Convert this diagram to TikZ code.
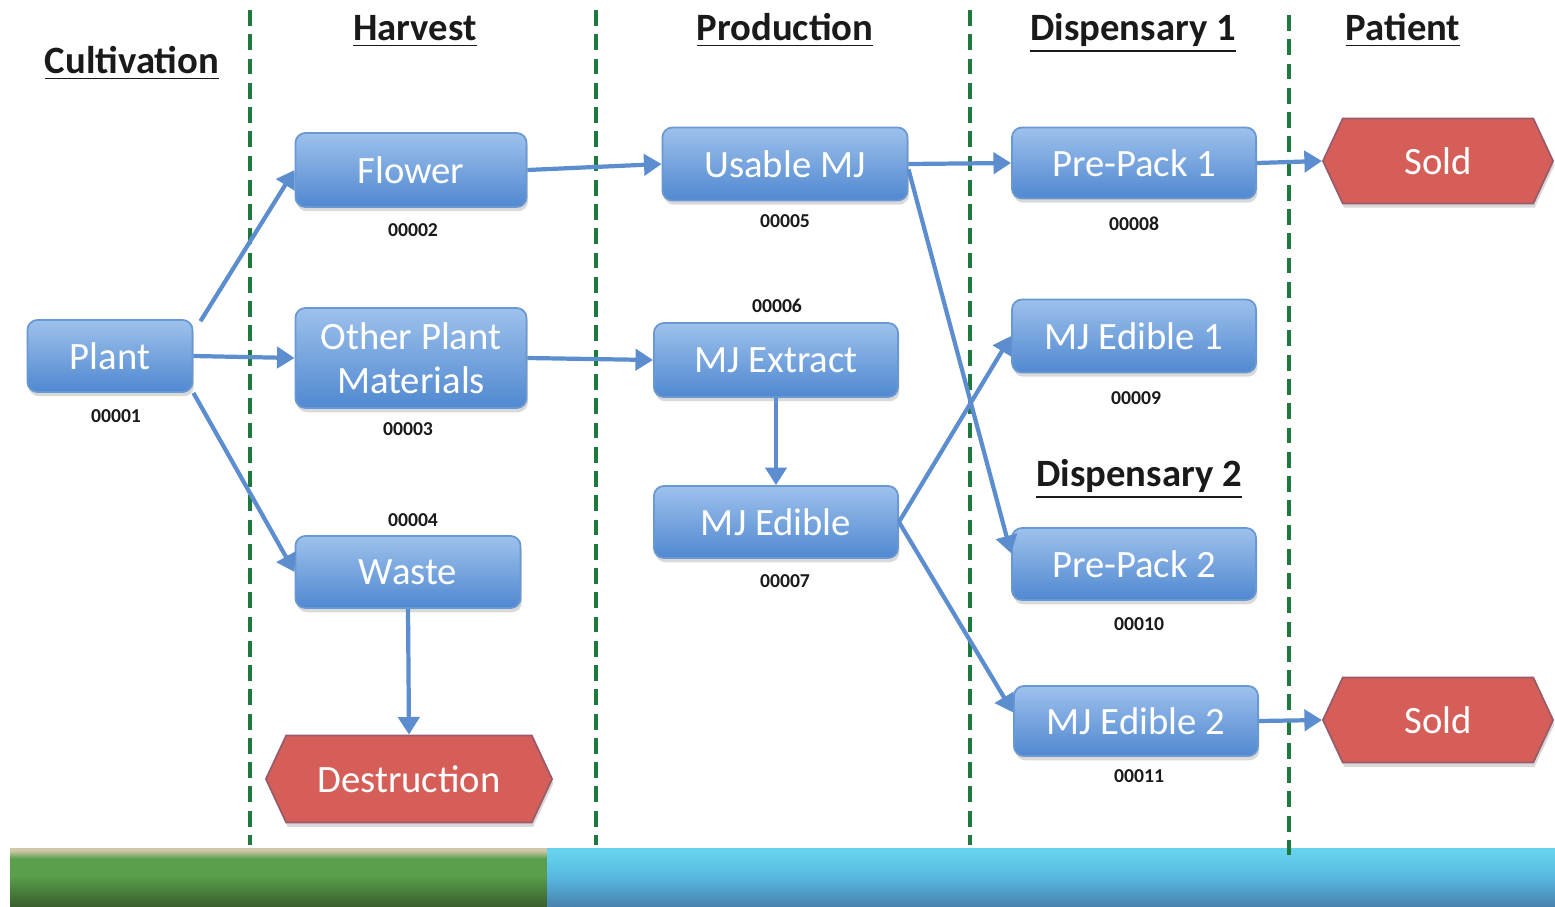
\documentclass[tikz,border=0pt]{standalone}
\usepackage{fontspec}
\setmainfont{Carlito}
\usetikzlibrary{arrows.meta,shapes.symbols,shadows}
\definecolor{boxtop}{HTML}{9DC1EC}
\definecolor{boxbot}{HTML}{5088D0}
\definecolor{boxline}{HTML}{6A98D2}
\definecolor{arrblue}{HTML}{5B8DCF}
\definecolor{lanegreen}{HTML}{1E7A3C}
\definecolor{hexfill}{HTML}{D55F58}
\definecolor{hexline}{HTML}{9A5A6A}
\definecolor{headtext}{HTML}{1A1A1A}
\definecolor{grtop}{HTML}{D0C8A8}
\definecolor{grmid}{HTML}{5AA04C}
\definecolor{grbot}{HTML}{3A602E}
\definecolor{bltop}{HTML}{66D2EC}
\definecolor{blmid}{HTML}{58B8E0}
\definecolor{blbot}{HTML}{4883B0}
\pgfdeclareverticalshading{greenbar}{100bp}{color(0bp)=(grbot); color(25bp)=(grbot); color(52bp)=(grmid); color(66bp)=(grmid); color(73bp)=(grtop); color(100bp)=(grtop)}
\pgfdeclareverticalshading{bluebar}{100bp}{color(0bp)=(blbot); color(25bp)=(blbot); color(50bp)=(blmid); color(71bp)=(bltop); color(100bp)=(bltop)}
\tikzset{
  box/.style={rounded corners=0.1cm, draw=boxline, line width=0.5pt,
    top color=boxtop, bottom color=boxbot, text=white,
    font=\fontsize{11}{12.5}\selectfont, align=center, inner sep=0pt,
    drop shadow={shadow xshift=0.4pt, shadow yshift=-1.2pt, opacity=0.3}},
  hexbox/.style={shape=signal, signal to=east and west, signal pointer angle=130,
    fill=hexfill, draw=hexline, line width=0.5pt, text=white,
    font=\fontsize{11}{12.5}\selectfont, inner sep=0pt,
    drop shadow={shadow xshift=0.4pt, shadow yshift=-1.2pt, opacity=0.3}},
  heading/.style={font=\bfseries\fontsize{11}{13}\selectfont, text=headtext, anchor=base, inner sep=0pt},
  idlabel/.style={font=\bfseries\fontsize{5.6}{6.5}\selectfont, text=headtext, inner sep=0pt},
  lane/.style={draw=lanegreen, line width=1.35pt, dash pattern=on 4.5pt off 2.4pt},
  arr/.style={draw=arrblue, line width=1.2pt, -{Triangle[length=5pt,width=6pt]}}
}
\begin{document}
\begin{tikzpicture}[x=0.01cm,y=-0.01cm]
\useasboundingbox (0,0) rectangle (1555,906);
% bottom bars
\shade[shading=greenbar] (10,848) rectangle (547,906);
\shade[shading=bluebar] (547,848) rectangle (1555,906);
% lanes
\draw[lane] (250,10) -- (250,845);
\draw[lane] (596,10) -- (596,845);
\draw[lane] (970,10) -- (970,845);
\draw[lane] (1289,15) -- (1289,855);
% headings
\node[heading] (hcult) at (132,73) {\underline{Cultivation}};
\node[heading] (hharv) at (415,40) {\underline{Harvest}};
\node[heading] (hprod) at (785,40) {\underline{Production}};
\node[heading] (hdisp1) at (1133,40) {\underline{Dispensary 1}};
\node[heading] (hpat) at (1403,40) {\underline{Patient}};
\node[heading] (hdisp2) at (1139,486) {\underline{Dispensary 2}};
% boxes
\node[box, minimum width=1.65cm, minimum height=0.72cm] (plant) at (110,356) {Plant};
\node[box, minimum width=2.31cm, minimum height=0.74cm] (flower) at (411,170) {Flower};
\node[box, minimum width=2.31cm, minimum height=1.00cm] (opm) at (411,358) {Other Plant\\Materials};
\node[box, minimum width=2.25cm, minimum height=0.72cm] (waste) at (408,572) {Waste};
\node[hexbox, minimum width=2.86cm, minimum height=0.87cm] (destr) at (409,779) {Destruction};
\node[box, minimum width=2.45cm, minimum height=0.73cm] (usable) at (785,164) {Usable MJ};
\node[box, minimum width=2.44cm, minimum height=0.74cm] (extract) at (776,360) {MJ Extract};
\node[box, minimum width=2.44cm, minimum height=0.72cm] (edible) at (776,522) {MJ Edible};
\node[box, minimum width=2.44cm, minimum height=0.71cm] (pp1) at (1134,163) {Pre-Pack 1};
\node[box, minimum width=2.44cm, minimum height=0.73cm] (ed1) at (1134,336) {MJ Edible 1};
\node[box, minimum width=2.44cm, minimum height=0.72cm] (pp2) at (1134,564) {Pre-Pack 2};
\node[box, minimum width=2.44cm, minimum height=0.70cm] (ed2) at (1136,721) {MJ Edible 2};
\node[hexbox, minimum width=2.30cm, minimum height=0.85cm] (sold1) at (1438,161) {Sold};
\node[hexbox, minimum width=2.30cm, minimum height=0.85cm] (sold2) at (1438,720) {Sold};
% ids
\node[idlabel] (id1) at (116,416) {00001};
\node[idlabel] (id2) at (413,230) {00002};
\node[idlabel] (id3) at (408,429) {00003};
\node[idlabel] (id4) at (413,520) {00004};
\node[idlabel] (id5) at (785,221) {00005};
\node[idlabel] (id6) at (777,306) {00006};
\node[idlabel] (id7) at (785,581) {00007};
\node[idlabel] (id8) at (1134,224) {00008};
\node[idlabel] (id9) at (1136,398) {00009};
\node[idlabel] (id10) at (1139,624) {00010};
\node[idlabel] (id11) at (1139,776) {00011};
% arrows
\draw[arr] ([xshift=2pt,yshift=-0.6pt]plant.north east) -- (flower.west);
\draw[arr] (plant.east) -- (opm.west);
\draw[arr] (plant.south east) -- (waste.west);
\draw[arr] (flower.east) -- (usable.west);
\draw[arr] (opm.east) -- (extract.west);
\draw[arr] (extract.south) -- (edible.north);
\draw[arr] (waste.south) -- (destr.north);
\draw[arr] (usable.east) -- (pp1.west);
\draw[arr] ([yshift=-1.5pt]usable.east) -- (pp2.175);
\draw[arr] (edible.east) -- (ed1.west);
\draw[arr] (edible.east) -- (ed2.176);
\draw[arr] (pp1.east) -- (sold1.west);
\draw[arr] (ed2.east) -- (sold2.west);
\end{tikzpicture}
\end{document}
